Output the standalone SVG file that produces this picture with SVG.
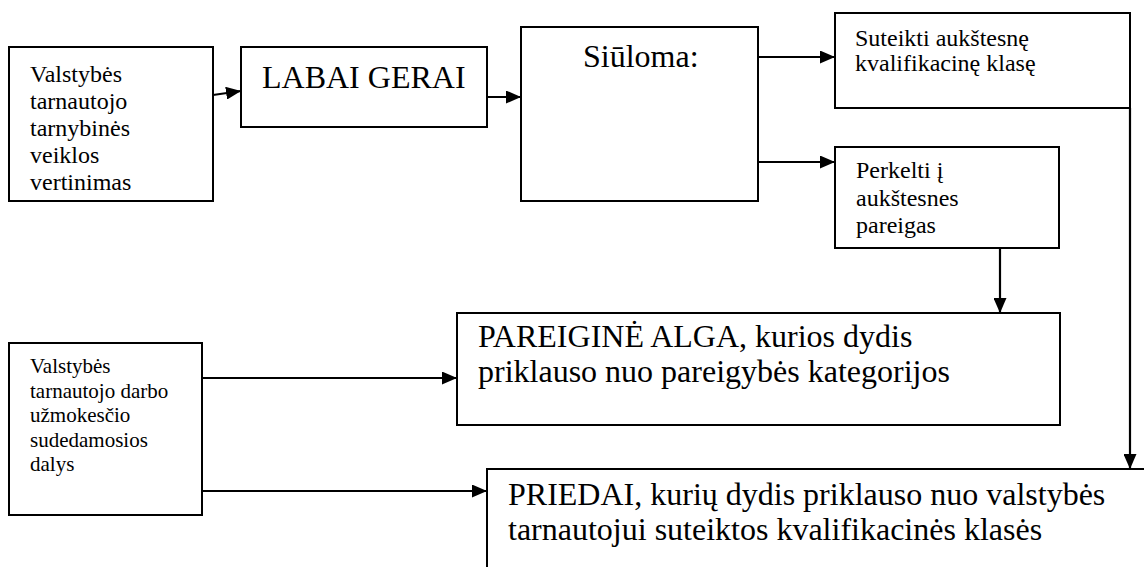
<svg xmlns="http://www.w3.org/2000/svg" width="1144" height="567" viewBox="0 0 1144 567">
<style>
.box{fill:#fff;stroke:#000;stroke-width:2}
text{font-family:'Liberation Serif','Times New Roman',serif;fill:#000}
.s21{font-size:21px}.s24{font-size:24px}.s32{font-size:32px}
.c{fill:none;stroke:#000;stroke-width:2.2}
</style>
<defs>
<marker id="ah" viewBox="0 0 15 13" refX="15" refY="6.5" markerWidth="15" markerHeight="13" orient="auto" markerUnits="userSpaceOnUse">
<path d="M0,0 L15,6.5 L0,13 z" fill="#000"/>
</marker>
</defs>
<rect width="1144" height="567" fill="#fff"/>
<g id="n1">
<rect class="box" x="9" y="47" width="204" height="154"/>
<text class="s24"><tspan x="30" y="82">Valstybės</tspan><tspan x="30" y="109">tarnautojo</tspan><tspan x="30" y="136">tarnybinės</tspan><tspan x="30" y="163">veiklos</tspan><tspan x="30" y="190">vertinimas</tspan></text>
</g>
<g id="n2">
<rect class="box" x="241" y="47" width="246" height="80"/>
<text class="s32" x="262" y="88">LABAI GERAI</text>
</g>
<g id="n3">
<rect class="box" x="521" y="27" width="237" height="174"/>
<text class="s32" x="583" y="67">Siūloma:</text>
</g>
<g id="n4">
<rect class="box" x="835" y="13" width="295" height="95"/>
<text class="s24"><tspan x="855" y="46">Suteikti aukštesnę</tspan><tspan x="855" y="71">kvalifikacinę klasę</tspan></text>
</g>
<g id="n5">
<rect class="box" x="835" y="147" width="224" height="101"/>
<text class="s24"><tspan x="856" y="178">Perkelti į</tspan><tspan x="856" y="206">aukštesnes</tspan><tspan x="856" y="233">pareigas</tspan></text>
</g>
<g id="n6">
<rect class="box" x="457" y="313" width="603" height="112"/>
<text class="s32"><tspan x="478" y="347">PAREIGINĖ ALGA, kurios dydis</tspan><tspan x="478" y="382">priklauso nuo pareigybės kategorijos</tspan></text>
</g>
<g id="n7">
<rect class="box" x="9" y="343" width="193" height="172"/>
<text class="s21"><tspan x="30" y="373">Valstybės</tspan><tspan x="30" y="398">tarnautojo darbo</tspan><tspan x="30" y="422">užmokesčio</tspan><tspan x="30" y="447">sudedamosios</tspan><tspan x="30" y="471">dalys</tspan></text>
</g>
<g id="n8">
<rect class="box" x="487" y="469" width="700" height="200"/>
<text class="s32"><tspan x="508" y="505">PRIEDAI, kurių dydis priklauso nuo valstybės</tspan><tspan x="508" y="540">tarnautojui suteiktos kvalifikacinės klasės</tspan></text>
</g>
<g id="connectors">
<path class="c" d="M213,95 L241,91" marker-end="url(#ah)"/>
<path class="c" d="M487,97 L521,97" marker-end="url(#ah)"/>
<path class="c" d="M758,57 L835,57" marker-end="url(#ah)"/>
<path class="c" d="M758,162 L835,162" marker-end="url(#ah)"/>
<path class="c" d="M1000,248 L1000,313" marker-end="url(#ah)"/>
<path class="c" d="M1130,108 L1130,469" marker-end="url(#ah)"/>
<path class="c" d="M202,378 L457,378" marker-end="url(#ah)"/>
<path class="c" d="M202,491 L487,491" marker-end="url(#ah)"/>
</g>
</svg>
